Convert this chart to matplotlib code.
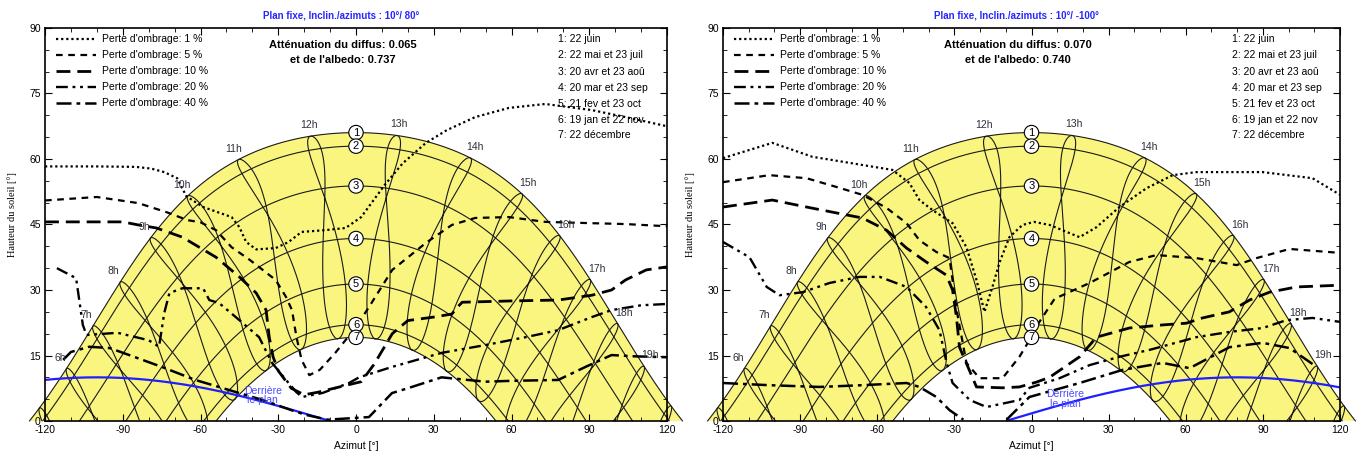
import numpy as np
import matplotlib
matplotlib.use("Agg")
import matplotlib.pyplot as plt
from matplotlib.lines import Line2D

plt.rcParams['font.family'] = ['Liberation Sans', 'DejaVu Sans']
plt.rcParams['axes.unicode_minus'] = False

# site / sun path
latitude = 47.4
legal_minus_solar = 0.5          # h
date_days = [173, 142, 110, 79, 52, 19, 356]
date_names = ["1: 22 juin", "2: 22 mai et 23 juil", "3: 20 avr et 23 aoû",
              "4: 20 mar et 23 sep", "5: 21 fev et 23 oct", "6: 19 jan et 22 nov",
              "7: 22 décembre"]
hour_lines = list(range(5, 21))
hour_labels = list(range(6, 20))

# planes
titles = ["Plan fixe, Inclin./azimuts : 10°/ 80°", "Plan fixe, Inclin./azimuts : 10°/ -100°"]
plane_tilt = [10, 10]
plane_azim = [80, -100]
diffus = ["0.065", "0.070"]
albedo = ["0.737", "0.740"]
behind_label_az = [-37, 12]

loss_names = ["Perte d'ombrage: 1 %", "Perte d'ombrage: 5 %", "Perte d'ombrage: 10 %",
              "Perte d'ombrage: 20 %", "Perte d'ombrage: 40 %"]

# iso-shading curves, left panel (10°/80°)
L1_az = [-120, -100, -85, -79, -74, -69, -65.5, -59, -48, -45, -42.4, -38.5, -31, -26, -21, -12, -4, 2,
         11, 18, 27, 35, 46, 59, 73, 91, 104, 120]
L1_alt = [58.3, 58.3, 58.2, 57.8, 57, 55.6, 51.5, 49, 46.7, 44.4, 41, 39.3, 39.6, 41, 43.3, 43.7, 44.2, 46.7,
          54, 59, 63.7, 66.6, 69.6, 71.7, 72.6, 71.2, 69.6, 67.5]
L5_az = [-120, -100, -84, -73, -65, -60, -54, -48, -41, -31, -27, -24.7, -23, -21, -18, -14, -8, 0, 5, 14,
         27, 37, 46, 59, 73, 91, 104, 120]
L5_alt = [50.5, 51.3, 49.9, 47.8, 46, 45.5, 43.7, 39.8, 36.9, 32.3, 28.4, 25.4, 19.3, 14, 10.5, 11.7, 15.6,
          21.5, 26.1, 34.6, 40.8, 44.9, 46.5, 46.7, 45.6, 45.3, 45.1, 44.6]
L10_az = [-120, -90, -84, -77, -67, -54, -45, -38.5, -34.7, -33.5, -32, -30, -25, -20, -14.6, -5, 2, 7,
          14, 20, 30, 37, 39, 41, 60, 78, 91, 98.6, 104, 112, 120]
L10_alt = [45.6, 45.6, 44.9, 44.2, 42.1, 37.5, 33, 29.3, 25.4, 19.3, 14.7, 11.5, 7.5, 6, 6.6, 8, 9, 13,
           20, 23, 23.8, 24.5, 26, 27.2, 27.5, 27.7, 28.8, 30, 32.3, 34.6, 35.3]
L20_az = [-115.4, -108, -105.4, -104, -92, -80, -76, -74, -72, -67, -59, -56.6, -52.8, -45, -37.4, -32.4,
          -27, -23, -20.8, -13, -2.7, 1.2, 14, 33, 50, 65.5, 78, 91, 98.6, 110, 120]
L20_alt = [35, 32.7, 22, 19.7, 20.2, 18.5, 17, 24.7, 29.3, 30.4, 30.4, 27.7, 27, 23.1, 19.2, 13.3,
           9.4, 6.6, 5.5, 6.4, 8.7, 10, 12.4, 15.6, 17.4, 19.2, 20.8, 23.8, 25.4, 26.5, 26.8]
L40_az = [-113, -110, -103, -95, -87.5, -75, -62, -49, -36, -25, -19.3, -11, 5, 13.9, 20, 33, 50, 60, 78,
          88.6, 98.6, 108, 120]
L40_alt = [14, 15.8, 17, 16.7, 15.1, 12.4, 9.4, 7.1, 4.8, 2.5, 1.4, 0.3, 0.9, 6.4, 7.5, 10, 9, 9.2, 9.4,
           12.4, 15.1, 14.8, 14.6]

# iso-shading curves, right panel (10°/-100°)
R1_az = [-120, -100.8, -85.2, -69.6, -54.1, -47.5, -43.6, -38.5, -30.7, -25.3, -21.4, -18.3, -15.2, -12.5,
         -8.6, -3.5, 1, 7, 18.7, 25.3, 34.2, 44.7, 54.9, 64.2, 89.9, 109.3, 120]
R1_alt = [60.2, 63.7, 60.5, 59, 57.5, 54.5, 50.6, 48.3, 45.3, 39.8, 32.3, 25, 30.7, 36.2, 42.1, 44.9, 45.6,
          44.9, 42.1, 44.4, 49, 53.3, 56.3, 57, 57, 55.6, 51.8]
R5_az = [-120, -102, -87.5, -75.9, -65.8, -56.4, -48.6, -43.6, -37, -31.9, -29, -25.3, -20.2, -11.3, -4.7,
         -0.8, 2.3, 9, 22.6, 38, 48.6, 64.2, 79.8, 87.5, 100.4, 120]
R5_alt = [54.7, 56.3, 55.6, 53.6, 51.8, 48.8, 45.3, 41.4, 38.7, 37.3, 25, 13.3, 9.8, 9.8, 14.7, 18.5, 22,
          28, 31.6, 36.4, 38, 37.3, 35.7, 37.3, 39.4, 38.5]
R10_az = [-120, -100.8, -87.5, -72, -65.8, -56.4, -48.6, -40.9, -33.1, -30.7, -29.2, -28, -21.4, -11.3,
          -4.7, 1.9, 7, 18.7, 25.3, 38.1, 51, 60.3, 66.5, 77, 84.8, 92.6, 103.1, 120]
R10_alt = [49, 50.6, 49, 47.2, 46.5, 43.7, 39.6, 36.4, 33.4, 30, 23.8, 16.9, 7.8, 7.6, 7.8, 8.9, 10, 14.7,
           19.2, 21.3, 22, 22.4, 23.6, 25, 27.7, 29.5, 30.7, 31.1]
R20_az = [-120, -109.7, -103, -98, -89, -78.6, -67, -59, -48.6, -41, -35.8, -33, -30.7, -24, -17.5, -4.7,
          -0.8, 10.9, 22.6, 34.2, 46, 64.2, 77, 90, 99.2, 109.3, 120]
R20_alt = [41, 37.5, 30.7, 28.8, 29.5, 31.6, 33, 33, 30.7, 26.1, 20.8, 13.3, 8.7, 4.8, 3.2, 4.8, 7.6, 9.8,
           12.8, 14.7, 16.3, 19.2, 20.4, 21.3, 23.1, 23.6, 22.7]
R40_az = [-120, -102, -82.5, -65.8, -48.6, -43.6, -37, -31.9, -26.5, np.nan, -9.7, -0.8, 18.7, 35.4, 51,
          61.5, 77, 89.9, 100.4, 110.9]
R40_alt = [8.7, 8.2, 7.8, 8.2, 8.7, 7.8, 5.5, 2.5, 0.3, np.nan, 0.3, 5.5, 8.7, 11.7, 13.3, 12.1, 16.9, 17.9,
           16.7, 12.4]

left_curves = [(L1_az, L1_alt), (L5_az, L5_alt), (L10_az, L10_alt), (L20_az, L20_alt), (L40_az, L40_alt)]
right_curves = [(R1_az, R1_alt), (R5_az, R5_alt), (R10_az, R10_alt), (R20_az, R20_alt), (R40_az, R40_alt)]

loss_styles = [(0, (1, 1.3)), (0, (3, 2.5)), (0, (5, 2.5)), (0, (5, 2, 1.2, 2, 1.2, 2)), (0, (6, 2, 1.5, 2))]
loss_widths = [1.6, 1.6, 2.0, 1.7, 1.8]


def declination(n):
    return 23.45 * np.sin(np.radians(360.0 * (284 + n) / 365.0))


def eq_time(n):
    b = np.radians(360.0 * (n - 81) / 364.0)
    return 9.87 * np.sin(2 * b) - 7.53 * np.cos(b) - 1.5 * np.sin(b)


def sun_pos(decl, hang):
    phi = np.radians(latitude)
    d = np.radians(decl)
    h = np.radians(hang)
    alt = np.degrees(np.arcsin(np.sin(phi) * np.sin(d) + np.cos(phi) * np.cos(d) * np.cos(h)))
    az = np.degrees(np.arctan2(np.sin(h), np.cos(h) * np.sin(phi) - np.tan(d) * np.cos(phi)))
    return az, alt


def hour_angle(t, n):
    return 15.0 * (t - legal_minus_solar + eq_time(n) / 60.0 - 12.0)


fig = plt.figure(figsize=(13.61, 4.55), dpi=100)
W, Hh = 1361.0, 455.0
axes_px = [(45, 622), (723, 617)]
hgrid = np.linspace(-180, 180, 3601)
loop_days = np.r_[np.arange(356, 366), np.arange(1, 357)]

for k, (x0, w) in enumerate(axes_px):
    ax = fig.add_axes([x0 / W, 34 / Hh, w / W, 393 / Hh])
    ax.set_xlim(-120, 120)
    ax.set_ylim(0, 90)

    # yellow band between 22 june and 22 december (drawn past the side spines, like PVsyst)
    ja, jh = sun_pos(declination(173), hgrid)
    da, dh = sun_pos(declination(356), hgrid)
    mj = jh > 0
    md = dh > 0
    px = np.r_[ja[mj], da[md][::-1]]
    py = np.r_[jh[mj], dh[md][::-1]]
    ax.fill(px, py, color='#f9f57f', zorder=1, lw=0, clip_on=False)

    # date curves
    for n in date_days:
        a, h = sun_pos(declination(n), hgrid)
        m = h > 0
        ax.plot(a[m], h[m], color='#1a1a1a', lw=0.8, zorder=2, clip_on=False)

    # hour lines (legal time)
    for t in hour_lines:
        a, h = sun_pos(declination(loop_days), hour_angle(t, loop_days))
        h = np.where(h < 0, np.nan, h)
        ax.plot(a, h, color='#1a1a1a', lw=0.8, zorder=2, clip_on=False)

    for t in hour_labels:
        a, h = sun_pos(declination(173), hour_angle(t, 173))
        ax.annotate(f"{t}h", (a, h), xytext=(6.5 * np.sin(np.radians(a)), 11),
                    textcoords='offset pixels', ha='center', va='center',
                    fontsize=7.5, color='#2e2e3a', zorder=6)

    # behind the plane
    az = np.linspace(-120, 120, 481)
    bh = np.degrees(np.arctan(-np.tan(np.radians(plane_tilt[k])) *
                              np.cos(np.radians(az - plane_azim[k]))))
    bh = np.where(bh < 0, np.nan, bh)
    ax.plot(az, bh, color='#1f1fff', lw=1.6, zorder=3)
    la = behind_label_az[k]
    lh = np.degrees(np.arctan(-np.tan(np.radians(plane_tilt[k])) *
                              np.cos(np.radians(la - plane_azim[k]))))
    ax.text(la + 1, lh + 1.3, "Derrière\nle plan", color='#4a4aff', fontsize=7.5,
            ha='center', va='center', linespacing=0.95, zorder=6)

    # iso-shading curves
    curves = left_curves if k == 0 else right_curves
    for (ca, ch), ls, lw in zip(curves, loss_styles, loss_widths):
        ax.plot(ca, ch, color='black', lw=lw, linestyle=ls, zorder=4)

    # numbered date markers
    for i, n in enumerate(date_days):
        ax.text(0, 90 - latitude + declination(n), str(i + 1), ha='center', va='center',
                fontsize=8, zorder=7,
                bbox=dict(boxstyle='circle,pad=0.2', fc='white', ec='black', lw=0.8))

    # legends
    rows = [0.972, 0.931, 0.891, 0.850, 0.809]
    for ry, name, ls, lw in zip(rows, loss_names, loss_styles, loss_widths):
        ax.add_line(Line2D([0.018, 0.082], [ry, ry], transform=ax.transAxes,
                           color='black', lw=lw, linestyle=ls, zorder=6))
        ax.text(0.092, ry, name, transform=ax.transAxes, fontsize=7.5, va='center', zorder=6)
    drows = [0.972, 0.931, 0.889, 0.848, 0.807, 0.766, 0.727]
    for ry, name in zip(drows, date_names):
        ax.text(0.825, ry, name, transform=ax.transAxes, fontsize=7.5, va='center', zorder=6)
    ax.text(0.478, 0.958, "Atténuation du diffus: " + diffus[k], transform=ax.transAxes,
            fontsize=8, weight='bold', ha='center', va='center', zorder=6)
    ax.text(0.478, 0.918, "et de l'albedo: " + albedo[k], transform=ax.transAxes,
            fontsize=8, weight='bold', ha='center', va='center', zorder=6)

    ax.set_xticks(np.arange(-120, 121, 30))
    ax.set_xticks(np.arange(-120, 121, 10), minor=True)
    ax.set_yticks(np.arange(0, 91, 15))
    ax.set_yticks(np.arange(0, 91, 5), minor=True)
    ax.tick_params(which='both', direction='in', top=True, right=True, labelsize=7.5, pad=3)
    ax.tick_params(which='major', length=5)
    ax.tick_params(which='minor', length=3)
    for s in ax.spines.values():
        s.set_linewidth(1.2)
        s.set_zorder(8)

    cx = (x0 + w / 2) / W
    fig.text(cx - 15 / W, 1 - 15 / Hh, titles[k], color='#2626ff', fontsize=7, weight='bold',
             ha='center', va='center')
    fig.text(cx, 1 - 446 / Hh, "Azimut [°]", fontsize=7.5, ha='center', va='center')
    fig.text((x0 - 33) / W, 1 - 215 / Hh, "Hauteur du soleil [°]", rotation=90, fontsize=7.5,
             family='Liberation Serif', ha='center', va='center')

fig.savefig("out.png", dpi=100)
